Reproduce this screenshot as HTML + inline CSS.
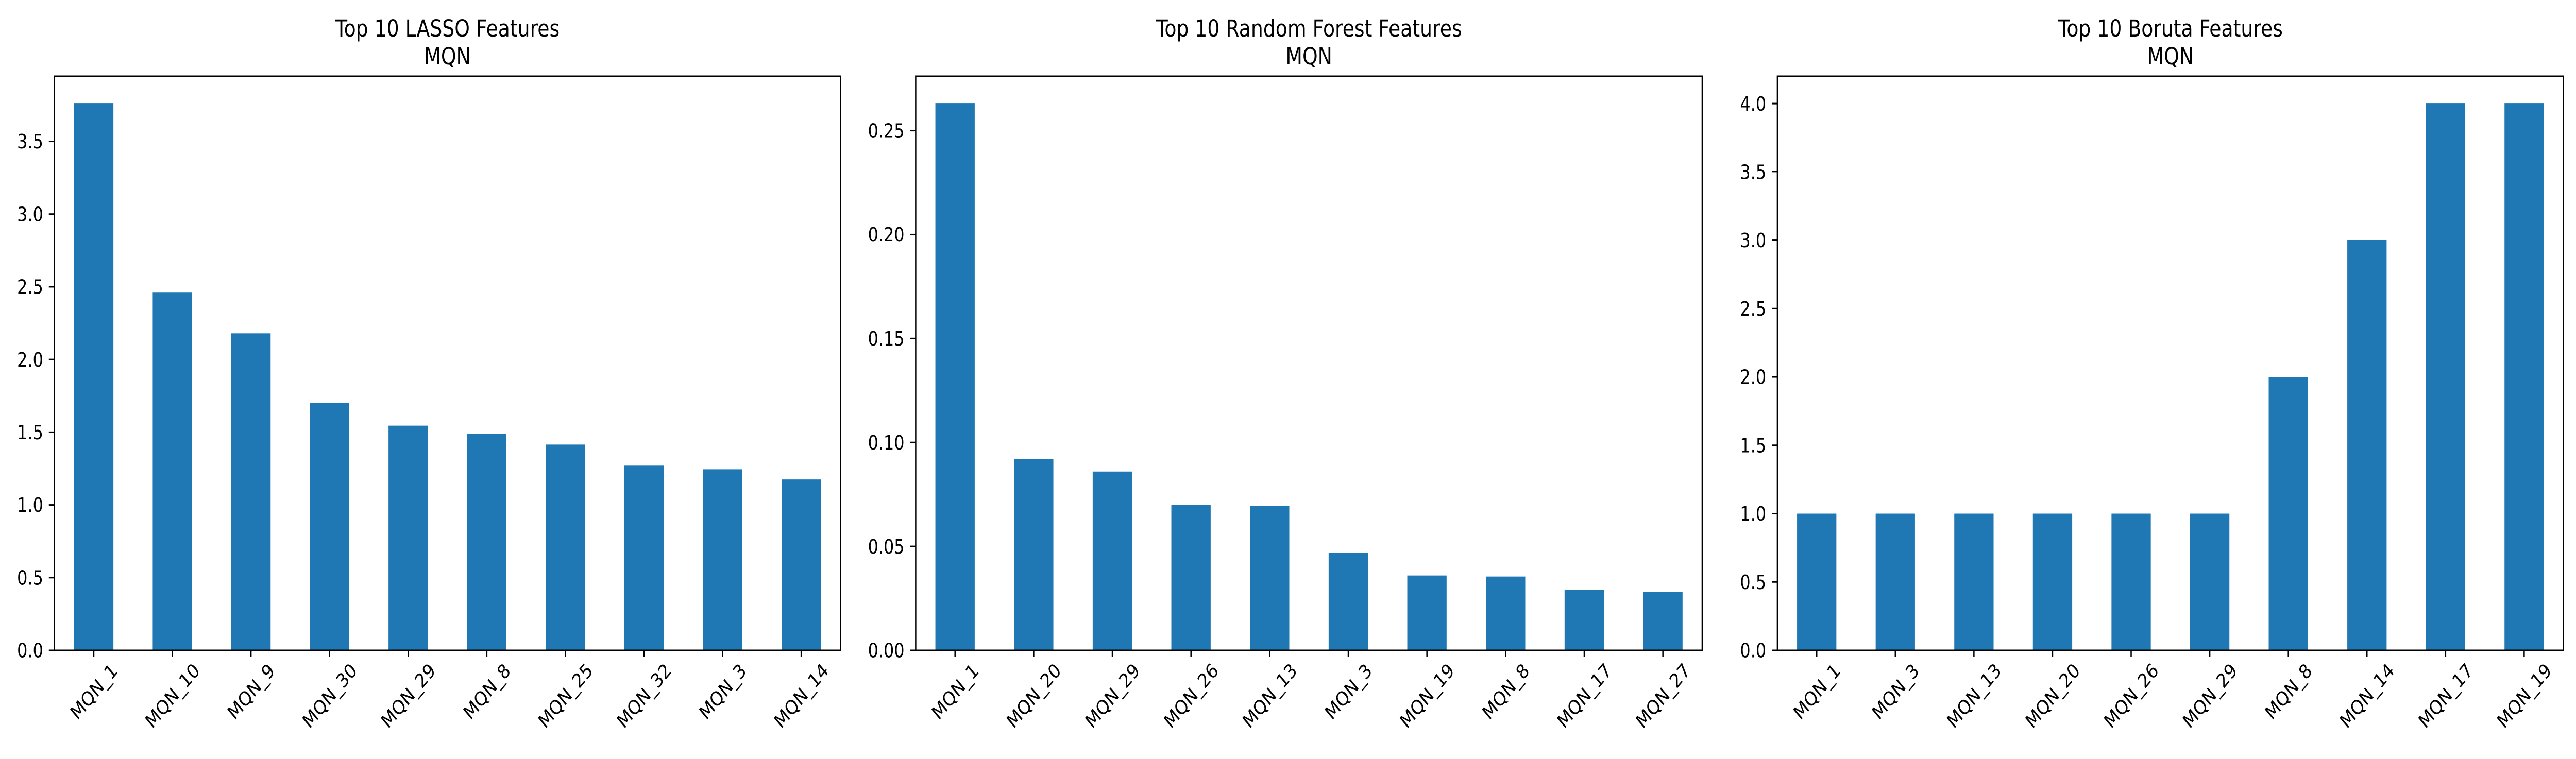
<!DOCTYPE html>
<html><head><meta charset="utf-8"><style>
html,body{margin:0;padding:0;background:#fff;overflow:hidden;}
svg{display:block;width:100vw;height:100vh;font-family:"DejaVu Sans","Liberation Sans",sans-serif;}
</style></head><body>
<svg id="fig" viewBox="0 0 5961 1474" preserveAspectRatio="none" xmlns="http://www.w3.org/2000/svg">
<rect width="5961" height="1474" fill="#fff"/>
</svg>
<script>
const lassoCats = ["MQN_1","MQN_10","MQN_9","MQN_30","MQN_29","MQN_8","MQN_25","MQN_32","MQN_3","MQN_14"];
const lassoVals = [3.76,2.46,2.18,1.70,1.545,1.49,1.415,1.27,1.245,1.175];
const lassoTicks = ["0.0","0.5","1.0","1.5","2.0","2.5","3.0","3.5"];
const rfCats = ["MQN_1","MQN_20","MQN_29","MQN_26","MQN_13","MQN_3","MQN_19","MQN_8","MQN_17","MQN_27"];
const rfVals = [0.263,0.092,0.086,0.070,0.0695,0.047,0.036,0.0355,0.029,0.028];
const rfTicks = ["0.00","0.05","0.10","0.15","0.20","0.25"];
const borutaCats = ["MQN_1","MQN_3","MQN_13","MQN_20","MQN_26","MQN_29","MQN_8","MQN_14","MQN_17","MQN_19"];
const borutaVals = [1,1,1,1,1,1,2,3,4,4];
const borutaTicks = ["0.0","0.5","1.0","1.5","2.0","2.5","3.0","3.5","4.0"];
const titles = [["Top 10 LASSO Features","MQN"],["Top 10 Random Forest Features","MQN"],["Top 10 Boruta Features","MQN"]];

const NS="http://www.w3.org/2000/svg";
const svgEl=document.getElementById('fig');
function mk(tag,attrs,parent){const e=document.createElementNS(NS,tag);for(const k in attrs)e.setAttribute(k,attrs[k]);(parent||svgEl).appendChild(e);return e;}

const panels=[
 {left:126,right:1945,cats:lassoCats,vals:lassoVals,ticks:lassoTicks,name:'lasso'},
 {left:2119,right:3939,cats:rfCats,vals:rfVals,ticks:rfTicks,name:'random-forest'},
 {left:4113,right:5932,cats:borutaCats,vals:borutaVals,ticks:borutaTicks,name:'boruta'}
];
const axTop=148,axBottom=1263,FS=38,TFS=45,TL=13,PAD=13;

panels.forEach((p,pi)=>{
  const g=mk('g',{});
  
  
  const n=p.cats.length;
  const ymax=Math.max(...p.vals)*1.05;
  const xs=i=>p.left+(i+0.5)*(p.right-p.left)/n;
  const ys=v=>axBottom-v/ymax*(axBottom-axTop);
  const bw=0.5*(p.right-p.left)/n;
  p.vals.forEach((v,i)=>{
    const r=mk('rect',{x:xs(i)-bw/2,y:ys(v),width:bw,height:axBottom-ys(v),fill:'#1f77b4'},g);
    
    
  });
  p.ticks.forEach(t=>{
    const v=parseFloat(t), y=ys(v);
    mk('line',{x1:p.left-TL,x2:p.left,y1:y,y2:y,stroke:'#000','stroke-width':3},g);
    const tx=mk('text',{x:p.left-TL-PAD,y:y+FS*0.36,'font-size':FS,'text-anchor':'end'},g);
    tx.textContent=t;
    
    
  });
  p.cats.forEach((c,i)=>{
    const x=xs(i);
    mk('line',{x1:x,x2:x,y1:axBottom,y2:axBottom+TL,stroke:'#000','stroke-width':3},g);
    const tx=mk('text',{'font-size':FS,'text-anchor':'middle'},g);
    tx.textContent=c;
    
    
    const w=c.length*FS*0.6;
    const bh=(w+FS)*0.7071;
    const cy=axBottom+TL+PAD+bh/2;
    tx.setAttribute('x',x);tx.setAttribute('y',cy+FS*0.36);
    tx.setAttribute('transform','rotate(-45 '+x+' '+cy+')');
  });
  const fr=mk('rect',{x:p.left,y:axTop,width:p.right-p.left,height:axBottom-axTop,fill:'none',stroke:'#000','stroke-width':3},g);
  
  
  const cx=(p.left+p.right)/2;
  const t1=mk('text',{x:cx,y:axTop-23-54,'font-size':TFS,'text-anchor':'middle'},g);
  t1.textContent=titles[pi][0];
  
  
  const t2=mk('text',{x:cx,y:axTop-23,'font-size':TFS,'text-anchor':'middle'},g);
  t2.textContent=titles[pi][1];
  
  
});
</script>
</body></html>
